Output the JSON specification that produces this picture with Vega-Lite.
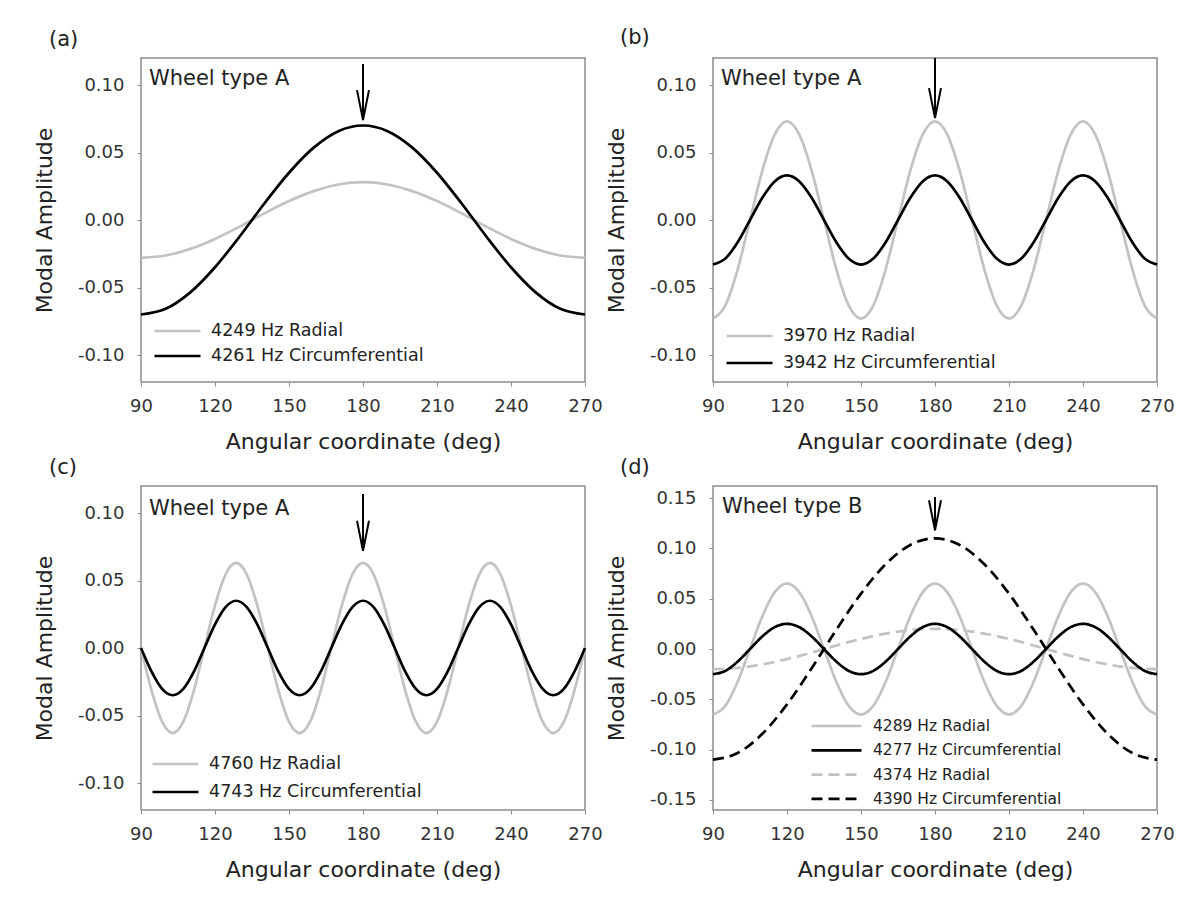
{
"$schema":"https://vega.github.io/schema/vega-lite/v6.json",
"background":"white",
"padding":{"left":32,"top":26,"right":10,"bottom":10},
"config":{
 "font":"DejaVu Sans",
 "view":{"stroke":"#8c8c8c","strokeWidth":1.5},
 "axis":{"grid":false,"domain":false,"tickSize":4,"tickColor":"#8c8c8c","tickWidth":1,"labelFontSize":18,"labelColor":"#333","titleFontSize":22,"titleFontWeight":"normal","titleColor":"#222","labelFlush":false,"labelOverlap":false},
 "axisX":{"labelPadding":11,"titlePadding":16},
 "axisY":{"labelPadding":13,"titlePadding":21},
 "legend":{"labelLimit":0},
 "title":{"fontSize":21,"fontWeight":"normal","color":"#222"}
},
"resolve":{"scale":{"color":"independent","strokeDash":"independent"},"legend":{"color":"independent","strokeDash":"independent"}},
"datasets":{
"a":[
{"s":"4249 Hz Radial","x":90,"y":-0.028},{"s":"4249 Hz Radial","x":100,"y":-0.0263},{"s":"4249 Hz Radial","x":110,"y":-0.0214},{"s":"4249 Hz Radial","x":120,"y":-0.014},{"s":"4249 Hz Radial","x":130,"y":-0.0049},{"s":"4249 Hz Radial","x":140,"y":0.0049},{"s":"4249 Hz Radial","x":150,"y":0.014},{"s":"4249 Hz Radial","x":160,"y":0.0214},{"s":"4249 Hz Radial","x":170,"y":0.0263},{"s":"4249 Hz Radial","x":180,"y":0.028},{"s":"4249 Hz Radial","x":190,"y":0.0263},{"s":"4249 Hz Radial","x":200,"y":0.0214},{"s":"4249 Hz Radial","x":210,"y":0.014},{"s":"4249 Hz Radial","x":220,"y":0.0049},{"s":"4249 Hz Radial","x":230,"y":-0.0049},{"s":"4249 Hz Radial","x":240,"y":-0.014},{"s":"4249 Hz Radial","x":250,"y":-0.0214},{"s":"4249 Hz Radial","x":260,"y":-0.0263},{"s":"4249 Hz Radial","x":270,"y":-0.028},
{"s":"4261 Hz Circumferential","x":90,"y":-0.07},{"s":"4261 Hz Circumferential","x":100,"y":-0.0658},{"s":"4261 Hz Circumferential","x":110,"y":-0.0536},{"s":"4261 Hz Circumferential","x":120,"y":-0.035},{"s":"4261 Hz Circumferential","x":130,"y":-0.0122},{"s":"4261 Hz Circumferential","x":140,"y":0.0122},{"s":"4261 Hz Circumferential","x":150,"y":0.035},{"s":"4261 Hz Circumferential","x":160,"y":0.0536},{"s":"4261 Hz Circumferential","x":170,"y":0.0658},{"s":"4261 Hz Circumferential","x":180,"y":0.07},{"s":"4261 Hz Circumferential","x":190,"y":0.0658},{"s":"4261 Hz Circumferential","x":200,"y":0.0536},{"s":"4261 Hz Circumferential","x":210,"y":0.035},{"s":"4261 Hz Circumferential","x":220,"y":0.0122},{"s":"4261 Hz Circumferential","x":230,"y":-0.0122},{"s":"4261 Hz Circumferential","x":240,"y":-0.035},{"s":"4261 Hz Circumferential","x":250,"y":-0.0536},{"s":"4261 Hz Circumferential","x":260,"y":-0.0658},{"s":"4261 Hz Circumferential","x":270,"y":-0.07}
],
"b":[
{"s":"3970 Hz Radial","x":90,"y":-0.073},{"s":"3970 Hz Radial","x":95,"y":-0.0632},{"s":"3970 Hz Radial","x":100,"y":-0.0365},{"s":"3970 Hz Radial","x":105,"y":0},{"s":"3970 Hz Radial","x":110,"y":0.0365},{"s":"3970 Hz Radial","x":115,"y":0.0632},{"s":"3970 Hz Radial","x":120,"y":0.073},{"s":"3970 Hz Radial","x":125,"y":0.0632},{"s":"3970 Hz Radial","x":130,"y":0.0365},{"s":"3970 Hz Radial","x":135,"y":0},{"s":"3970 Hz Radial","x":140,"y":-0.0365},{"s":"3970 Hz Radial","x":145,"y":-0.0632},
{"s":"3970 Hz Radial","x":150,"y":-0.073},{"s":"3970 Hz Radial","x":155,"y":-0.0632},{"s":"3970 Hz Radial","x":160,"y":-0.0365},{"s":"3970 Hz Radial","x":165,"y":0},{"s":"3970 Hz Radial","x":170,"y":0.0365},{"s":"3970 Hz Radial","x":175,"y":0.0632},{"s":"3970 Hz Radial","x":180,"y":0.073},{"s":"3970 Hz Radial","x":185,"y":0.0632},{"s":"3970 Hz Radial","x":190,"y":0.0365},{"s":"3970 Hz Radial","x":195,"y":0},{"s":"3970 Hz Radial","x":200,"y":-0.0365},{"s":"3970 Hz Radial","x":205,"y":-0.0632},
{"s":"3970 Hz Radial","x":210,"y":-0.073},{"s":"3970 Hz Radial","x":215,"y":-0.0632},{"s":"3970 Hz Radial","x":220,"y":-0.0365},{"s":"3970 Hz Radial","x":225,"y":0},{"s":"3970 Hz Radial","x":230,"y":0.0365},{"s":"3970 Hz Radial","x":235,"y":0.0632},{"s":"3970 Hz Radial","x":240,"y":0.073},{"s":"3970 Hz Radial","x":245,"y":0.0632},{"s":"3970 Hz Radial","x":250,"y":0.0365},{"s":"3970 Hz Radial","x":255,"y":0},{"s":"3970 Hz Radial","x":260,"y":-0.0365},{"s":"3970 Hz Radial","x":265,"y":-0.0632},{"s":"3970 Hz Radial","x":270,"y":-0.073},
{"s":"3942 Hz Circumferential","x":90,"y":-0.033},{"s":"3942 Hz Circumferential","x":95,"y":-0.0286},{"s":"3942 Hz Circumferential","x":100,"y":-0.0165},{"s":"3942 Hz Circumferential","x":105,"y":0},{"s":"3942 Hz Circumferential","x":110,"y":0.0165},{"s":"3942 Hz Circumferential","x":115,"y":0.0286},{"s":"3942 Hz Circumferential","x":120,"y":0.033},{"s":"3942 Hz Circumferential","x":125,"y":0.0286},{"s":"3942 Hz Circumferential","x":130,"y":0.0165},{"s":"3942 Hz Circumferential","x":135,"y":0},{"s":"3942 Hz Circumferential","x":140,"y":-0.0165},{"s":"3942 Hz Circumferential","x":145,"y":-0.0286},
{"s":"3942 Hz Circumferential","x":150,"y":-0.033},{"s":"3942 Hz Circumferential","x":155,"y":-0.0286},{"s":"3942 Hz Circumferential","x":160,"y":-0.0165},{"s":"3942 Hz Circumferential","x":165,"y":0},{"s":"3942 Hz Circumferential","x":170,"y":0.0165},{"s":"3942 Hz Circumferential","x":175,"y":0.0286},{"s":"3942 Hz Circumferential","x":180,"y":0.033},{"s":"3942 Hz Circumferential","x":185,"y":0.0286},{"s":"3942 Hz Circumferential","x":190,"y":0.0165},{"s":"3942 Hz Circumferential","x":195,"y":0},{"s":"3942 Hz Circumferential","x":200,"y":-0.0165},{"s":"3942 Hz Circumferential","x":205,"y":-0.0286},
{"s":"3942 Hz Circumferential","x":210,"y":-0.033},{"s":"3942 Hz Circumferential","x":215,"y":-0.0286},{"s":"3942 Hz Circumferential","x":220,"y":-0.0165},{"s":"3942 Hz Circumferential","x":225,"y":0},{"s":"3942 Hz Circumferential","x":230,"y":0.0165},{"s":"3942 Hz Circumferential","x":235,"y":0.0286},{"s":"3942 Hz Circumferential","x":240,"y":0.033},{"s":"3942 Hz Circumferential","x":245,"y":0.0286},{"s":"3942 Hz Circumferential","x":250,"y":0.0165},{"s":"3942 Hz Circumferential","x":255,"y":0},{"s":"3942 Hz Circumferential","x":260,"y":-0.0165},{"s":"3942 Hz Circumferential","x":265,"y":-0.0286},{"s":"3942 Hz Circumferential","x":270,"y":-0.033}
],
"c":[
{"s":"4760 Hz Radial","x":90,"y":0},{"s":"4760 Hz Radial","x":94.29,"y":-0.0315},{"s":"4760 Hz Radial","x":98.57,"y":-0.0546},{"s":"4760 Hz Radial","x":102.86,"y":-0.063},{"s":"4760 Hz Radial","x":107.14,"y":-0.0546},{"s":"4760 Hz Radial","x":111.43,"y":-0.0315},{"s":"4760 Hz Radial","x":115.71,"y":0},{"s":"4760 Hz Radial","x":120,"y":0.0315},{"s":"4760 Hz Radial","x":124.29,"y":0.0546},{"s":"4760 Hz Radial","x":128.57,"y":0.063},{"s":"4760 Hz Radial","x":132.86,"y":0.0546},{"s":"4760 Hz Radial","x":137.14,"y":0.0315},
{"s":"4760 Hz Radial","x":141.43,"y":0},{"s":"4760 Hz Radial","x":145.71,"y":-0.0315},{"s":"4760 Hz Radial","x":150,"y":-0.0546},{"s":"4760 Hz Radial","x":154.29,"y":-0.063},{"s":"4760 Hz Radial","x":158.57,"y":-0.0546},{"s":"4760 Hz Radial","x":162.86,"y":-0.0315},{"s":"4760 Hz Radial","x":167.14,"y":0},{"s":"4760 Hz Radial","x":171.43,"y":0.0315},{"s":"4760 Hz Radial","x":175.71,"y":0.0546},{"s":"4760 Hz Radial","x":180,"y":0.063},{"s":"4760 Hz Radial","x":184.29,"y":0.0546},{"s":"4760 Hz Radial","x":188.57,"y":0.0315},
{"s":"4760 Hz Radial","x":192.86,"y":0},{"s":"4760 Hz Radial","x":197.14,"y":-0.0315},{"s":"4760 Hz Radial","x":201.43,"y":-0.0546},{"s":"4760 Hz Radial","x":205.71,"y":-0.063},{"s":"4760 Hz Radial","x":210,"y":-0.0546},{"s":"4760 Hz Radial","x":214.29,"y":-0.0315},{"s":"4760 Hz Radial","x":218.57,"y":0},{"s":"4760 Hz Radial","x":222.86,"y":0.0315},{"s":"4760 Hz Radial","x":227.14,"y":0.0546},{"s":"4760 Hz Radial","x":231.43,"y":0.063},{"s":"4760 Hz Radial","x":235.71,"y":0.0546},{"s":"4760 Hz Radial","x":240,"y":0.0315},
{"s":"4760 Hz Radial","x":244.29,"y":0},{"s":"4760 Hz Radial","x":248.57,"y":-0.0315},{"s":"4760 Hz Radial","x":252.86,"y":-0.0546},{"s":"4760 Hz Radial","x":257.14,"y":-0.063},{"s":"4760 Hz Radial","x":261.43,"y":-0.0546},{"s":"4760 Hz Radial","x":265.71,"y":-0.0315},{"s":"4760 Hz Radial","x":270,"y":0},
{"s":"4743 Hz Circumferential","x":90,"y":0},{"s":"4743 Hz Circumferential","x":94.29,"y":-0.0175},{"s":"4743 Hz Circumferential","x":98.57,"y":-0.0303},{"s":"4743 Hz Circumferential","x":102.86,"y":-0.035},{"s":"4743 Hz Circumferential","x":107.14,"y":-0.0303},{"s":"4743 Hz Circumferential","x":111.43,"y":-0.0175},{"s":"4743 Hz Circumferential","x":115.71,"y":0},{"s":"4743 Hz Circumferential","x":120,"y":0.0175},{"s":"4743 Hz Circumferential","x":124.29,"y":0.0303},{"s":"4743 Hz Circumferential","x":128.57,"y":0.035},{"s":"4743 Hz Circumferential","x":132.86,"y":0.0303},{"s":"4743 Hz Circumferential","x":137.14,"y":0.0175},
{"s":"4743 Hz Circumferential","x":141.43,"y":0},{"s":"4743 Hz Circumferential","x":145.71,"y":-0.0175},{"s":"4743 Hz Circumferential","x":150,"y":-0.0303},{"s":"4743 Hz Circumferential","x":154.29,"y":-0.035},{"s":"4743 Hz Circumferential","x":158.57,"y":-0.0303},{"s":"4743 Hz Circumferential","x":162.86,"y":-0.0175},{"s":"4743 Hz Circumferential","x":167.14,"y":0},{"s":"4743 Hz Circumferential","x":171.43,"y":0.0175},{"s":"4743 Hz Circumferential","x":175.71,"y":0.0303},{"s":"4743 Hz Circumferential","x":180,"y":0.035},{"s":"4743 Hz Circumferential","x":184.29,"y":0.0303},{"s":"4743 Hz Circumferential","x":188.57,"y":0.0175},
{"s":"4743 Hz Circumferential","x":192.86,"y":0},{"s":"4743 Hz Circumferential","x":197.14,"y":-0.0175},{"s":"4743 Hz Circumferential","x":201.43,"y":-0.0303},{"s":"4743 Hz Circumferential","x":205.71,"y":-0.035},{"s":"4743 Hz Circumferential","x":210,"y":-0.0303},{"s":"4743 Hz Circumferential","x":214.29,"y":-0.0175},{"s":"4743 Hz Circumferential","x":218.57,"y":0},{"s":"4743 Hz Circumferential","x":222.86,"y":0.0175},{"s":"4743 Hz Circumferential","x":227.14,"y":0.0303},{"s":"4743 Hz Circumferential","x":231.43,"y":0.035},{"s":"4743 Hz Circumferential","x":235.71,"y":0.0303},{"s":"4743 Hz Circumferential","x":240,"y":0.0175},
{"s":"4743 Hz Circumferential","x":244.29,"y":0},{"s":"4743 Hz Circumferential","x":248.57,"y":-0.0175},{"s":"4743 Hz Circumferential","x":252.86,"y":-0.0303},{"s":"4743 Hz Circumferential","x":257.14,"y":-0.035},{"s":"4743 Hz Circumferential","x":261.43,"y":-0.0303},{"s":"4743 Hz Circumferential","x":265.71,"y":-0.0175},{"s":"4743 Hz Circumferential","x":270,"y":0}
],
"d":[
{"s":"4374 Hz Radial","x":90,"y":-0.02},{"s":"4374 Hz Radial","x":100,"y":-0.0188},{"s":"4374 Hz Radial","x":110,"y":-0.0153},{"s":"4374 Hz Radial","x":120,"y":-0.01},{"s":"4374 Hz Radial","x":130,"y":-0.0035},{"s":"4374 Hz Radial","x":140,"y":0.0035},{"s":"4374 Hz Radial","x":150,"y":0.01},{"s":"4374 Hz Radial","x":160,"y":0.0153},{"s":"4374 Hz Radial","x":170,"y":0.0188},{"s":"4374 Hz Radial","x":180,"y":0.02},{"s":"4374 Hz Radial","x":190,"y":0.0188},{"s":"4374 Hz Radial","x":200,"y":0.0153},{"s":"4374 Hz Radial","x":210,"y":0.01},{"s":"4374 Hz Radial","x":220,"y":0.0035},{"s":"4374 Hz Radial","x":230,"y":-0.0035},{"s":"4374 Hz Radial","x":240,"y":-0.01},{"s":"4374 Hz Radial","x":250,"y":-0.0153},{"s":"4374 Hz Radial","x":260,"y":-0.0188},{"s":"4374 Hz Radial","x":270,"y":-0.02},
{"s":"4289 Hz Radial","x":90,"y":-0.065},{"s":"4289 Hz Radial","x":95,"y":-0.0563},{"s":"4289 Hz Radial","x":100,"y":-0.0325},{"s":"4289 Hz Radial","x":105,"y":0},{"s":"4289 Hz Radial","x":110,"y":0.0325},{"s":"4289 Hz Radial","x":115,"y":0.0563},{"s":"4289 Hz Radial","x":120,"y":0.065},{"s":"4289 Hz Radial","x":125,"y":0.0563},{"s":"4289 Hz Radial","x":130,"y":0.0325},{"s":"4289 Hz Radial","x":135,"y":0},{"s":"4289 Hz Radial","x":140,"y":-0.0325},{"s":"4289 Hz Radial","x":145,"y":-0.0563},
{"s":"4289 Hz Radial","x":150,"y":-0.065},{"s":"4289 Hz Radial","x":155,"y":-0.0563},{"s":"4289 Hz Radial","x":160,"y":-0.0325},{"s":"4289 Hz Radial","x":165,"y":0},{"s":"4289 Hz Radial","x":170,"y":0.0325},{"s":"4289 Hz Radial","x":175,"y":0.0563},{"s":"4289 Hz Radial","x":180,"y":0.065},{"s":"4289 Hz Radial","x":185,"y":0.0563},{"s":"4289 Hz Radial","x":190,"y":0.0325},{"s":"4289 Hz Radial","x":195,"y":0},{"s":"4289 Hz Radial","x":200,"y":-0.0325},{"s":"4289 Hz Radial","x":205,"y":-0.0563},
{"s":"4289 Hz Radial","x":210,"y":-0.065},{"s":"4289 Hz Radial","x":215,"y":-0.0563},{"s":"4289 Hz Radial","x":220,"y":-0.0325},{"s":"4289 Hz Radial","x":225,"y":0},{"s":"4289 Hz Radial","x":230,"y":0.0325},{"s":"4289 Hz Radial","x":235,"y":0.0563},{"s":"4289 Hz Radial","x":240,"y":0.065},{"s":"4289 Hz Radial","x":245,"y":0.0563},{"s":"4289 Hz Radial","x":250,"y":0.0325},{"s":"4289 Hz Radial","x":255,"y":0},{"s":"4289 Hz Radial","x":260,"y":-0.0325},{"s":"4289 Hz Radial","x":265,"y":-0.0563},{"s":"4289 Hz Radial","x":270,"y":-0.065},
{"s":"4277 Hz Circumferential","x":90,"y":-0.025},{"s":"4277 Hz Circumferential","x":95,"y":-0.0217},{"s":"4277 Hz Circumferential","x":100,"y":-0.0125},{"s":"4277 Hz Circumferential","x":105,"y":0},{"s":"4277 Hz Circumferential","x":110,"y":0.0125},{"s":"4277 Hz Circumferential","x":115,"y":0.0217},{"s":"4277 Hz Circumferential","x":120,"y":0.025},{"s":"4277 Hz Circumferential","x":125,"y":0.0217},{"s":"4277 Hz Circumferential","x":130,"y":0.0125},{"s":"4277 Hz Circumferential","x":135,"y":0},{"s":"4277 Hz Circumferential","x":140,"y":-0.0125},{"s":"4277 Hz Circumferential","x":145,"y":-0.0217},
{"s":"4277 Hz Circumferential","x":150,"y":-0.025},{"s":"4277 Hz Circumferential","x":155,"y":-0.0217},{"s":"4277 Hz Circumferential","x":160,"y":-0.0125},{"s":"4277 Hz Circumferential","x":165,"y":0},{"s":"4277 Hz Circumferential","x":170,"y":0.0125},{"s":"4277 Hz Circumferential","x":175,"y":0.0217},{"s":"4277 Hz Circumferential","x":180,"y":0.025},{"s":"4277 Hz Circumferential","x":185,"y":0.0217},{"s":"4277 Hz Circumferential","x":190,"y":0.0125},{"s":"4277 Hz Circumferential","x":195,"y":0},{"s":"4277 Hz Circumferential","x":200,"y":-0.0125},{"s":"4277 Hz Circumferential","x":205,"y":-0.0217},
{"s":"4277 Hz Circumferential","x":210,"y":-0.025},{"s":"4277 Hz Circumferential","x":215,"y":-0.0217},{"s":"4277 Hz Circumferential","x":220,"y":-0.0125},{"s":"4277 Hz Circumferential","x":225,"y":0},{"s":"4277 Hz Circumferential","x":230,"y":0.0125},{"s":"4277 Hz Circumferential","x":235,"y":0.0217},{"s":"4277 Hz Circumferential","x":240,"y":0.025},{"s":"4277 Hz Circumferential","x":245,"y":0.0217},{"s":"4277 Hz Circumferential","x":250,"y":0.0125},{"s":"4277 Hz Circumferential","x":255,"y":0},{"s":"4277 Hz Circumferential","x":260,"y":-0.0125},{"s":"4277 Hz Circumferential","x":265,"y":-0.0217},{"s":"4277 Hz Circumferential","x":270,"y":-0.025},
{"s":"4390 Hz Circumferential","x":90,"y":-0.11},{"s":"4390 Hz Circumferential","x":100,"y":-0.1034},{"s":"4390 Hz Circumferential","x":110,"y":-0.0843},{"s":"4390 Hz Circumferential","x":120,"y":-0.055},{"s":"4390 Hz Circumferential","x":130,"y":-0.0191},{"s":"4390 Hz Circumferential","x":140,"y":0.0191},{"s":"4390 Hz Circumferential","x":150,"y":0.055},{"s":"4390 Hz Circumferential","x":160,"y":0.0843},{"s":"4390 Hz Circumferential","x":170,"y":0.1034},{"s":"4390 Hz Circumferential","x":180,"y":0.11},{"s":"4390 Hz Circumferential","x":190,"y":0.1034},{"s":"4390 Hz Circumferential","x":200,"y":0.0843},{"s":"4390 Hz Circumferential","x":210,"y":0.055},{"s":"4390 Hz Circumferential","x":220,"y":0.0191},{"s":"4390 Hz Circumferential","x":230,"y":-0.0191},{"s":"4390 Hz Circumferential","x":240,"y":-0.055},{"s":"4390 Hz Circumferential","x":250,"y":-0.0843},{"s":"4390 Hz Circumferential","x":260,"y":-0.1034},{"s":"4390 Hz Circumferential","x":270,"y":-0.11}
]
},
"columns":2,
"bounds":"flush",
"spacing":{"row":104,"column":128},
"concat":[
{
 "width":444,"height":324,
 "title":{"text":"(a)","anchor":"start","frame":"group","dx":-92,"offset":8},
 "data":{"name":"a"},
 "layer":[
  {"mark":{"type":"line","interpolate":"monotone","strokeWidth":2.7},
   "encoding":{
    "x":{"field":"x","type":"quantitative","scale":{"domain":[90,270],"nice":false,"zero":false},"axis":{"values":[90,120,150,180,210,240,270]},"title":"Angular coordinate (deg)"},
    "y":{"field":"y","type":"quantitative","scale":{"domain":[-0.12,0.12],"nice":false,"zero":false},"axis":{"values":[-0.1,-0.05,0,0.05,0.1],"format":".2f","labelExpr":"replace(datum.label,'\u2212','-')"},"title":"Modal Amplitude"},
    "color":{"field":"s","type":"nominal","scale":{"domain":["4249 Hz Radial","4261 Hz Circumferential"],"range":["#c2c2c2","#000000"]},
     "legend":{"title":null,"orient":"none","legendX":12,"legendY":263,"symbolType":"stroke","symbolSize":2116,"symbolStrokeWidth":2.7,"clipHeight":20,"rowPadding":5,"labelOffset":9,"labelFontSize":17.5,"labelLimit":0,"labelColor":"#222","padding":0,"symbolOffset":0}}
   }},
  {"data":{"values":[{}]},"mark":{"type":"rule","strokeWidth":2,"color":"#000"},
   "encoding":{"x":{"datum":180,"type":"quantitative","title":"Angular coordinate (deg)"},"y":{"datum":0.1155,"type":"quantitative","title":"Modal Amplitude"},"y2":{"datum":0.074}}},
  {"data":{"values":[{}]},"mark":{"type":"point","shape":"M-0.4,-2L0,0L0.4,-2","size":900,"filled":false,"color":"#000","strokeWidth":2,"opacity":1},
   "encoding":{"x":{"datum":180,"type":"quantitative","title":"Angular coordinate (deg)"},"y":{"datum":0.074,"type":"quantitative","title":"Modal Amplitude"}}},
  {"data":{"values":[{}]},"mark":{"type":"text","text":"Wheel type A","align":"left","baseline":"middle","fontSize":21,"color":"#222"},
   "encoding":{"x":{"datum":93.2,"type":"quantitative","title":"Angular coordinate (deg)"},"y":{"datum":0.1045,"type":"quantitative","title":"Modal Amplitude"}}}
 ]
},
{
 "width":444,"height":324,
 "title":{"text":"(b)","anchor":"start","frame":"group","dx":-93,"offset":9},
 "data":{"name":"b"},
 "layer":[
  {"mark":{"type":"line","interpolate":"monotone","strokeWidth":2.7},
   "encoding":{
    "x":{"field":"x","type":"quantitative","scale":{"domain":[90,270],"nice":false,"zero":false},"axis":{"values":[90,120,150,180,210,240,270]},"title":"Angular coordinate (deg)"},
    "y":{"field":"y","type":"quantitative","scale":{"domain":[-0.12,0.12],"nice":false,"zero":false},"axis":{"values":[-0.1,-0.05,0,0.05,0.1],"format":".2f","labelExpr":"replace(datum.label,'\u2212','-')"},"title":"Modal Amplitude"},
    "color":{"field":"s","type":"nominal","scale":{"domain":["3970 Hz Radial","3942 Hz Circumferential"],"range":["#c2c2c2","#000000"]},
     "legend":{"title":null,"orient":"none","legendX":12,"legendY":268,"symbolType":"stroke","symbolSize":2116,"symbolStrokeWidth":2.7,"clipHeight":20,"rowPadding":7,"labelOffset":9,"labelFontSize":17.5,"labelLimit":0,"labelColor":"#222","padding":0,"symbolOffset":0}}
   }},
  {"data":{"values":[{}]},"mark":{"type":"rule","strokeWidth":2,"color":"#000"},
   "encoding":{"x":{"datum":180,"type":"quantitative","title":"Angular coordinate (deg)"},"y":{"datum":0.12,"type":"quantitative","title":"Modal Amplitude"},"y2":{"datum":0.0755}}},
  {"data":{"values":[{}]},"mark":{"type":"point","shape":"M-0.4,-2L0,0L0.4,-2","size":900,"filled":false,"color":"#000","strokeWidth":2,"opacity":1},
   "encoding":{"x":{"datum":180,"type":"quantitative","title":"Angular coordinate (deg)"},"y":{"datum":0.0755,"type":"quantitative","title":"Modal Amplitude"}}},
  {"data":{"values":[{}]},"mark":{"type":"text","text":"Wheel type A","align":"left","baseline":"middle","fontSize":21,"color":"#222"},
   "encoding":{"x":{"datum":93.2,"type":"quantitative","title":"Angular coordinate (deg)"},"y":{"datum":0.1045,"type":"quantitative","title":"Modal Amplitude"}}}
 ]
},
{
 "width":444,"height":324,
 "title":{"text":"(c)","anchor":"start","frame":"group","dx":-92,"offset":8},
 "data":{"name":"c"},
 "layer":[
  {"mark":{"type":"line","interpolate":"monotone","strokeWidth":2.7},
   "encoding":{
    "x":{"field":"x","type":"quantitative","scale":{"domain":[90,270],"nice":false,"zero":false},"axis":{"values":[90,120,150,180,210,240,270]},"title":"Angular coordinate (deg)"},
    "y":{"field":"y","type":"quantitative","scale":{"domain":[-0.12,0.12],"nice":false,"zero":false},"axis":{"values":[-0.1,-0.05,0,0.05,0.1],"format":".2f","labelExpr":"replace(datum.label,'\u2212','-')"},"title":"Modal Amplitude"},
    "color":{"field":"s","type":"nominal","scale":{"domain":["4760 Hz Radial","4743 Hz Circumferential"],"range":["#c2c2c2","#000000"]},
     "legend":{"title":null,"orient":"none","legendX":10,"legendY":268,"symbolType":"stroke","symbolSize":2116,"symbolStrokeWidth":2.7,"clipHeight":20,"rowPadding":8,"labelOffset":9,"labelFontSize":17.5,"labelLimit":0,"labelColor":"#222","padding":0,"symbolOffset":0}}
   }},
  {"data":{"values":[{}]},"mark":{"type":"rule","strokeWidth":2,"color":"#000"},
   "encoding":{"x":{"datum":180,"type":"quantitative","title":"Angular coordinate (deg)"},"y":{"datum":0.114,"type":"quantitative","title":"Modal Amplitude"},"y2":{"datum":0.072}}},
  {"data":{"values":[{}]},"mark":{"type":"point","shape":"M-0.4,-2L0,0L0.4,-2","size":900,"filled":false,"color":"#000","strokeWidth":2,"opacity":1},
   "encoding":{"x":{"datum":180,"type":"quantitative","title":"Angular coordinate (deg)"},"y":{"datum":0.072,"type":"quantitative","title":"Modal Amplitude"}}},
  {"data":{"values":[{}]},"mark":{"type":"text","text":"Wheel type A","align":"left","baseline":"middle","fontSize":21,"color":"#222"},
   "encoding":{"x":{"datum":93.2,"type":"quantitative","title":"Angular coordinate (deg)"},"y":{"datum":0.103,"type":"quantitative","title":"Modal Amplitude"}}}
 ]
},
{
 "width":444,"height":324,
 "title":{"text":"(d)","anchor":"start","frame":"group","dx":-93,"offset":8},
 "data":{"name":"d"},
 "layer":[
  {"mark":{"type":"line","interpolate":"monotone","strokeWidth":2.7},
   "encoding":{
    "x":{"field":"x","type":"quantitative","scale":{"domain":[90,270],"nice":false,"zero":false},"axis":{"values":[90,120,150,180,210,240,270]},"title":"Angular coordinate (deg)"},
    "y":{"field":"y","type":"quantitative","scale":{"domain":[-0.16,0.162],"nice":false,"zero":false},"axis":{"values":[-0.15,-0.1,-0.05,0,0.05,0.1,0.15],"format":".2f","labelExpr":"replace(datum.label,'\u2212','-')"},"title":"Modal Amplitude"},
    "color":{"field":"s","type":"nominal","scale":{"domain":["4289 Hz Radial","4277 Hz Circumferential","4374 Hz Radial","4390 Hz Circumferential"],"range":["#c2c2c2","#000000","#c2c2c2","#000000"]},
     "legend":{"title":null,"orient":"none","legendX":97,"legendY":231,"symbolType":"stroke","symbolSize":2500,"symbolStrokeWidth":2.7,"clipHeight":18,"rowPadding":6.3,"labelOffset":10,"labelFontSize":15.5,"labelLimit":0,"labelColor":"#222","padding":0,"symbolOffset":0}},
    "strokeDash":{"field":"s","type":"nominal","scale":{"domain":["4289 Hz Radial","4277 Hz Circumferential","4374 Hz Radial","4390 Hz Circumferential"],"range":[[1,0],[1,0],[11,6],[11,6]]},
     "legend":{"title":null,"orient":"none","legendX":97,"legendY":231,"symbolType":"stroke","symbolSize":2500,"symbolStrokeWidth":2.7,"clipHeight":18,"rowPadding":6.3,"labelOffset":10,"labelFontSize":15.5,"labelLimit":0,"labelColor":"#222","padding":0,"symbolOffset":0}}
   }},
  {"data":{"values":[{}]},"mark":{"type":"rule","strokeWidth":2,"color":"#000"},
   "encoding":{"x":{"datum":180,"type":"quantitative","title":"Angular coordinate (deg)"},"y":{"datum":0.151,"type":"quantitative","title":"Modal Amplitude"},"y2":{"datum":0.118}}},
  {"data":{"values":[{}]},"mark":{"type":"point","shape":"M-0.4,-2L0,0L0.4,-2","size":900,"filled":false,"color":"#000","strokeWidth":2,"opacity":1},
   "encoding":{"x":{"datum":180,"type":"quantitative","title":"Angular coordinate (deg)"},"y":{"datum":0.118,"type":"quantitative","title":"Modal Amplitude"}}},
  {"data":{"values":[{}]},"mark":{"type":"text","text":"Wheel type B","align":"left","baseline":"middle","fontSize":21,"color":"#222"},
   "encoding":{"x":{"datum":93.6,"type":"quantitative","title":"Angular coordinate (deg)"},"y":{"datum":0.141,"type":"quantitative","title":"Modal Amplitude"}}}
 ]
}
]
}
